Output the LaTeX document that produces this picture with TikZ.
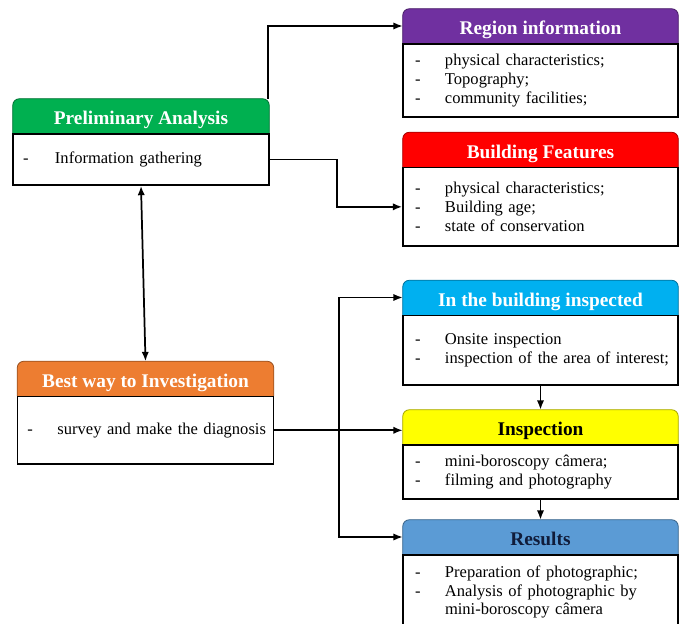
\documentclass[tikz,border=0pt]{standalone}
\usepackage{fontspec}
\setmainfont{Liberation Serif}
\usetikzlibrary{arrows.meta,backgrounds}

\definecolor{hGreen}{RGB}{0,176,80}
\definecolor{hPurple}{RGB}{112,48,160}
\definecolor{hRed}{RGB}{255,0,0}
\definecolor{hOrange}{RGB}{237,125,49}
\definecolor{hCyan}{RGB}{0,176,240}
\definecolor{hYellow}{RGB}{255,255,0}
\definecolor{hBlue}{RGB}{91,155,213}
\definecolor{hNavy}{RGB}{16,28,58}

\newcommand{\titlefont}{\bfseries\fontsize{14.5}{16}\selectfont}
\newcommand{\bodyfont}{\fontsize{12.4}{13.9}\selectfont}
\newcommand{\itm}[1]{\mbox{\makebox[22.5pt][l]{-}#1}}

\begin{document}
\begin{tikzpicture}[x=0.75pt,y=-0.75pt,
	headR/.style={minimum width=206.25pt, minimum height=25.5pt, inner sep=0pt, text height=13pt, text depth=0pt, font=\titlefont, text=white},
	headL/.style={headR, minimum width=192pt},
	bodyR/.style={draw, line width=1.2pt, minimum width=206.25pt, text width=188.25pt, inner xsep=9pt, inner ysep=0pt, anchor=north, align=left, font=\bodyfont},
	bodyL/.style={bodyR, minimum width=192pt, text width=177pt, inner xsep=7.5pt},
	conn/.style={line width=1.3pt},
	>={Latex[length=7pt,width=5.5pt]}]
	\useasboundingbox (0,0) rectangle (686,624);

	% left column
	\node[headL] (prelimHead) at (141,116) {Preliminary Analysis};
	\node[bodyL, minimum height=38.25pt] (prelimBody) at (prelimHead.south) {\mbox{\makebox[24pt][l]{-}Information gathering}};
	\node[headL] (bestHead) at (145.5,378.5) {Best way to Investigation};
	\node[bodyL, minimum height=50.6pt] (bestBody) at (bestHead.south) {\itm{survey and make the diagnosis}};

	% right column
	\node[headR] (regionHead) at (540.5,26) {Region information};
	\node[bodyR, minimum height=54.75pt] (regionBody) at (regionHead.south) {\itm{physical characteristics;}\\ \itm{Topography;}\\ \itm{community facilities;}};
	\node[headR] (buildHead) at (540.5,149.5) {Building Features};
	\node[bodyR, minimum height=58.9pt] (buildBody) at (buildHead.south) {\itm{physical characteristics;}\\ \itm{Building age;}\\ \itm{state of conservation}};
	\node[headR] (inbuildHead) at (540.5,297.5) {In the building inspected};
	\node[bodyR, minimum height=52.1pt] (inbuildBody) at (inbuildHead.south) {\itm{Onsite inspection}\\ \itm{inspection of the area of interest;}};
	\node[headR, text=black] (inspectHead) at (540.5,427) {Inspection};
	\node[bodyR, minimum height=40.5pt] (inspectBody) at (inspectHead.south) {\itm{mini-boroscopy câmera;}\\ \itm{filming and photography}};
	\node[headR, text=hNavy] (resultsHead) at (540.5,537) {Results};
	\node[bodyR, minimum height=56pt] (resultsBody) at (resultsHead.south) {\itm{Preparation of photographic;}\\ \itm{Analysis of photographic by}\\ \hspace*{22.5pt}mini-boroscopy câmera};

	\begin{scope}[on background layer]
		\foreach \n/\c in {prelimHead/hGreen, bestHead/hOrange, regionHead/hPurple, buildHead/hRed, inbuildHead/hCyan, inspectHead/hYellow, resultsHead/hBlue}
			\path[fill=\c, draw=\c!65!black, line width=0.6pt, rounded corners=5pt] (\n.south west) -- (\n.north west) -- (\n.north east) -- (\n.south east);
	\end{scope}

	% connectors
	\coordinate (bendA) at (337,0);
	\coordinate (trunk) at (339,0);
	\draw[conn,->] ([xshift=-1pt]prelimHead.north east) |- (regionHead.west);
	\draw[conn,->] (prelimBody.east) -| (bendA |- buildBody.west) -- (buildBody.west);
	\draw[conn,<->] (prelimBody.south) -- (bestHead.north);
	\draw[conn,->] (bestBody.east) -- (bestBody.east -| inspectHead.west);
	\draw[conn,<->] (inbuildHead.west) -| (trunk |- resultsHead.west) -- (resultsHead.west);
	\draw[conn,->] (inbuildBody.south) -- (inspectHead.north);
	\draw[conn,->] (inspectBody.south) -- (resultsHead.north);
\end{tikzpicture}
\end{document}
